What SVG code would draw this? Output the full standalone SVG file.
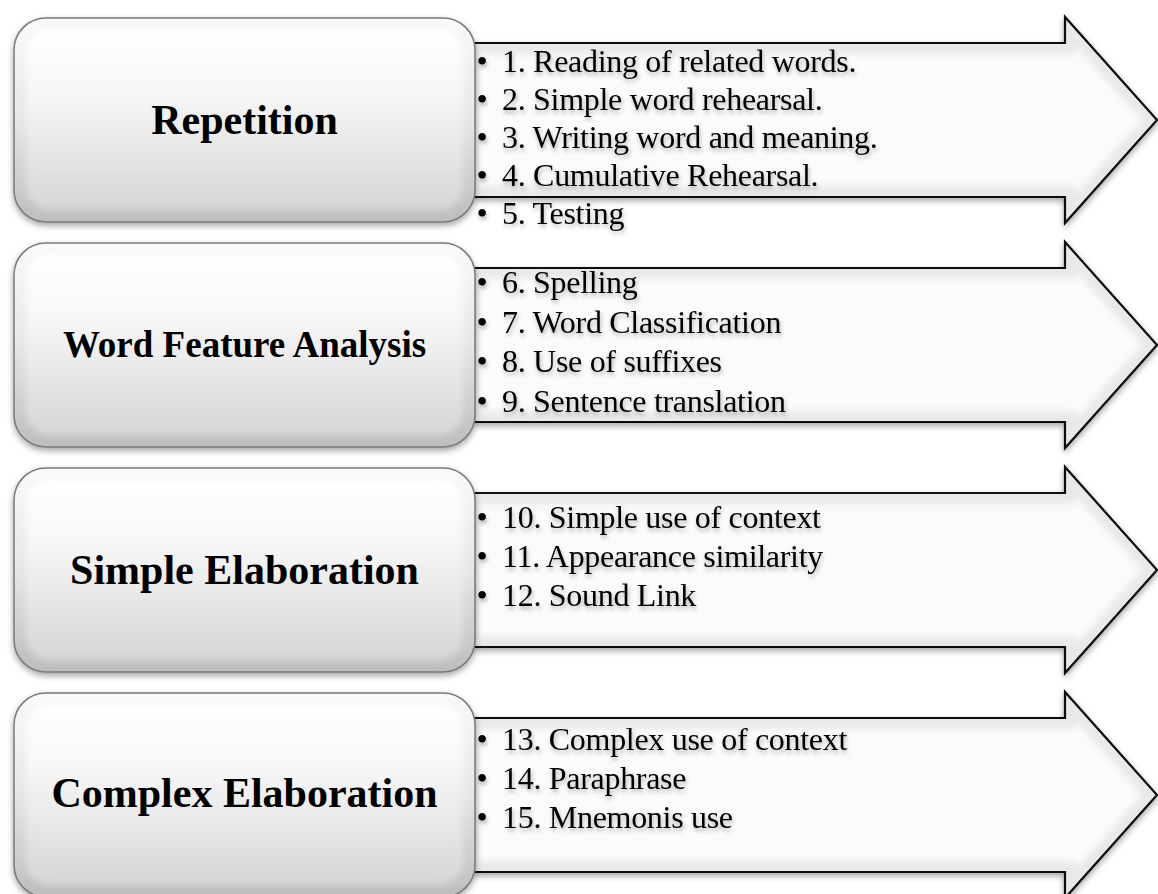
<svg xmlns="http://www.w3.org/2000/svg" width="1158" height="894" viewBox="0 0 1158 894">
  <defs>
    <linearGradient id="boxOuter" x1="0" y1="0" x2="0" y2="1">
      <stop offset="0" stop-color="#fafafa"/>
      <stop offset="0.5" stop-color="#e6e6e6"/>
      <stop offset="1" stop-color="#bdbdbd"/>
    </linearGradient>
    <linearGradient id="boxInner" x1="0" y1="0" x2="0" y2="1">
      <stop offset="0" stop-color="#ffffff"/>
      <stop offset="0.35" stop-color="#f7f7f7"/>
      <stop offset="1" stop-color="#d6d6d6"/>
    </linearGradient>
    <filter id="shadow" x="-5%" y="-10%" width="110%" height="125%">
      <feDropShadow dx="0" dy="3" stdDeviation="3" flood-color="#000" flood-opacity="0.35"/>
    </filter>
    <filter id="soft" x="-5%" y="-10%" width="110%" height="120%">
      <feGaussianBlur stdDeviation="3"/>
    </filter>
    <filter id="tshadow" x="-5%" y="-20%" width="110%" height="150%">
      <feDropShadow dx="1" dy="3" stdDeviation="2" flood-color="#000" flood-opacity="0.3"/>
    </filter>
    <path id="arrowShape" d="M474,43 L1065,43 L1065,17 L1157,120 L1065,223 L1065,197 L474,197 Z"/>
    <path id="arrowInner" d="M478,54 L1076,54 L1076,46 L1142,120 L1076,194 L1076,186 L478,186 Z"/>
    <g id="box">
      <rect x="14" y="18" width="461" height="204" rx="32" ry="32" fill="url(#boxOuter)" stroke="#7a7a7a" stroke-width="1.5" filter="url(#shadow)"/>
      <rect x="26" y="30" width="437" height="180" rx="24" ry="24" fill="url(#boxInner)" filter="url(#soft)"/>
    </g>
  </defs>
  <style>
    .arrow { fill: #e9e9e9; stroke: #111111; stroke-width: 2.2; stroke-linejoin: miter; }
    .arrowface { fill: #fbfbfb; }
    .item { font-family: "Liberation Serif", "Times New Roman", serif; font-size: 32px; letter-spacing: -0.3px; fill: #000; }
    .bul { font-family: "Liberation Serif", "Times New Roman", serif; font-size: 32px; fill: #000; text-anchor: middle; }
    .label { font-family: "Liberation Serif", "Times New Roman", serif; font-weight: bold; fill: #000; text-anchor: middle; }
  </style>

  <!-- connectors (arrows) -->
  <g id="connectors">
    <g transform="translate(0,0)">
      <use href="#arrowShape" class="arrow" filter="url(#shadow)"/>
      <use href="#arrowInner" class="arrowface" filter="url(#soft)"/>
    </g>
    <g transform="translate(0,225)">
      <use href="#arrowShape" class="arrow" filter="url(#shadow)"/>
      <use href="#arrowInner" class="arrowface" filter="url(#soft)"/>
    </g>
    <g transform="translate(0,450)">
      <use href="#arrowShape" class="arrow" filter="url(#shadow)"/>
      <use href="#arrowInner" class="arrowface" filter="url(#soft)"/>
    </g>
    <g transform="translate(0,675)">
      <use href="#arrowShape" class="arrow" filter="url(#shadow)"/>
      <use href="#arrowInner" class="arrowface" filter="url(#soft)"/>
    </g>
  </g>

  <!-- arrow texts -->
  <g id="list1" filter="url(#tshadow)">
    <text class="bul" x="482" y="72">•</text><text class="item" x="502" y="72">1. Reading of related words.</text>
    <text class="bul" x="482" y="110">•</text><text class="item" x="502" y="110">2. Simple word rehearsal.</text>
    <text class="bul" x="482" y="148">•</text><text class="item" x="502" y="148">3. Writing word and meaning.</text>
    <text class="bul" x="482" y="186">•</text><text class="item" x="502" y="186">4. Cumulative Rehearsal.</text>
    <text class="bul" x="482" y="224">•</text><text class="item" x="502" y="224">5. Testing</text>
  </g>
  <g id="list2" filter="url(#tshadow)">
    <text class="bul" x="482" y="293">•</text><text class="item" x="502" y="293">6. Spelling</text>
    <text class="bul" x="482" y="333">•</text><text class="item" x="502" y="333">7. Word Classification</text>
    <text class="bul" x="482" y="372">•</text><text class="item" x="502" y="372">8. Use of suffixes</text>
    <text class="bul" x="482" y="412">•</text><text class="item" x="502" y="412">9. Sentence translation</text>
  </g>
  <g id="list3" filter="url(#tshadow)">
    <text class="bul" x="482" y="528">•</text><text class="item" x="502" y="528">10. Simple use of context</text>
    <text class="bul" x="482" y="567">•</text><text class="item" x="502" y="567">11. Appearance similarity</text>
    <text class="bul" x="482" y="606">•</text><text class="item" x="502" y="606">12. Sound Link</text>
  </g>
  <g id="list4" filter="url(#tshadow)">
    <text class="bul" x="482" y="750">•</text><text class="item" x="502" y="750">13. Complex use of context</text>
    <text class="bul" x="482" y="789">•</text><text class="item" x="502" y="789">14. Paraphrase</text>
    <text class="bul" x="482" y="828">•</text><text class="item" x="502" y="828">15. Mnemonis use</text>
  </g>

  <!-- nodes -->
  <g id="node-repetition">
    <use href="#box"/>
    <text class="label" x="244.5" y="134" font-size="42">Repetition</text>
  </g>
  <g id="node-word-feature-analysis">
    <use href="#box" transform="translate(0,225)"/>
    <text class="label" x="244.5" y="357" font-size="37">Word Feature Analysis</text>
  </g>
  <g id="node-simple-elaboration">
    <use href="#box" transform="translate(0,450)"/>
    <text class="label" x="244.5" y="584" font-size="42">Simple Elaboration</text>
  </g>
  <g id="node-complex-elaboration">
    <use href="#box" transform="translate(0,675)"/>
    <text class="label" x="244.5" y="807" font-size="42">Complex Elaboration</text>
  </g>
</svg>
